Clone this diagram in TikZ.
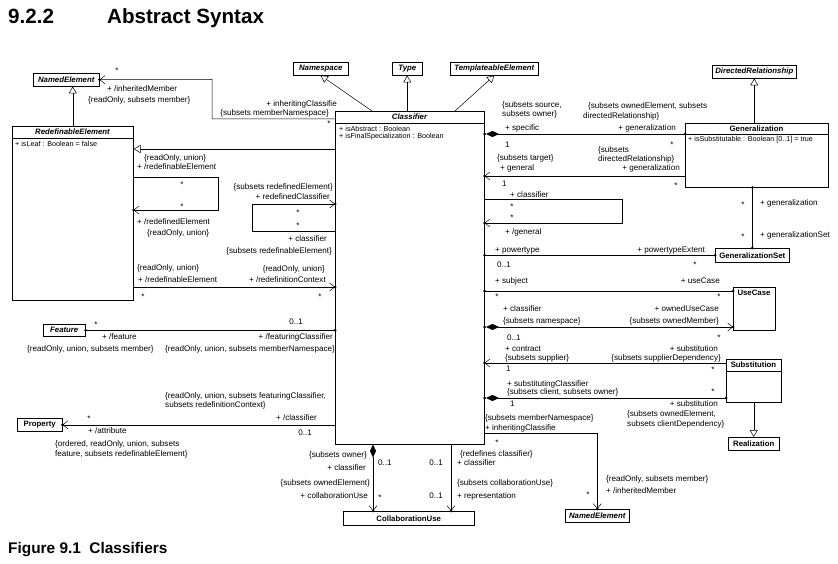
\documentclass[tikz,border=0pt]{standalone}
\usepackage{fontspec}
\setmainfont{Liberation Sans}
\usetikzlibrary{arrows.meta,shadows}
\newcommand\lblfont{\fontsize{8.1}{9}\selectfont}
\newcommand\attrfont{\fontsize{7.2}{8}\selectfont}
\newcommand\ttlfont{\fontsize{7.8}{9}\selectfont\bfseries}
\newcommand\owned[1]{\fill #1 circle (1.5pt);}
\tikzset{
  cls/.style={draw, fill=white, line width=0.5pt, inner sep=0pt, anchor=north west,
    drop shadow={shadow xshift=1.2pt, shadow yshift=-1.2pt, fill=black!45, opacity=1}},
  lbl/.style={font=\lblfont, inner sep=0pt},
  assoc/.style={draw, line width=0.5pt},
  navi/.style={-{Straight Barb[length=5pt,width=8pt]}},
  comp/.style={{Diamond[length=13pt,width=6pt]}-},
  compnavi/.style={{Diamond[length=13pt,width=6pt]}-{Straight Barb[length=5pt,width=8pt]}},
  gen/.style={-{Triangle[open,length=7pt,width=8pt]}},
}
\begin{document}
\begin{tikzpicture}[x=1pt,y=-1pt]
  \useasboundingbox (0,0) rectangle (838,564);
  % heading and caption
  \node[anchor=base west, inner sep=0pt, font=\fontsize{20.6}{24}\selectfont\bfseries] (secnum) at (8,23.5) {9.2.2};
  \node[anchor=base west, inner sep=0pt, font=\fontsize{20.6}{24}\selectfont\bfseries] (sectitle) at (107,23.5) {Abstract Syntax};
  \node[anchor=base west, inner sep=0pt, font=\fontsize{15.4}{18}\selectfont\bfseries] (caption) at (8,553) {Figure 9.1\ \ Classifiers};

  % small classes
  \node[cls, minimum width=66pt, minimum height=13pt] (nelt) at (33,73) {\ttlfont\itshape NamedElement};
  \node[cls, minimum width=55pt, minimum height=13pt] (nspc) at (293,62) {\ttlfont\itshape Namespace};
  \node[cls, minimum width=30pt, minimum height=13pt] (type) at (392,62) {\ttlfont\itshape Type};
  \node[cls, minimum width=88pt, minimum height=13pt] (tmpl) at (450,62) {\ttlfont\itshape TemplateableElement};
  \node[cls, minimum width=84pt, minimum height=13pt] (drel) at (712,65) {\ttlfont\itshape DirectedRelationship};
  \node[cls, minimum width=42pt, minimum height=12pt] (feat) at (43,324) {\ttlfont\itshape Feature};
  \node[cls, minimum width=45pt, minimum height=13pt] (prop) at (17,418) {\ttlfont Property};
  \node[cls, minimum width=74pt, minimum height=14pt] (gset) at (715,248) {\ttlfont GeneralizationSet};
  \node[cls, minimum width=51pt, minimum height=13pt] (real) at (728,437) {\ttlfont Realization};
  \node[cls, minimum width=131pt, minimum height=14pt] (colu) at (343,511) {\ttlfont CollaborationUse};
  \node[cls, minimum width=64pt, minimum height=13pt] (nelt2) at (565,509) {\ttlfont\itshape NamedElement};

  % classes with compartments
  \node[cls, minimum width=121pt, minimum height=174pt] (redef) at (12,126) {};
  \node[font={\ttlfont\itshape}, inner sep=0pt] (redef-t) at (72.5,132) {RedefinableElement};
  \draw[line width=0.5pt] (redef.west |- 0,138) -- (redef.east |- 0,138);
  \node[font=\attrfont, inner sep=0pt, anchor=west] (redef-a) at (15,144) {+ isLeaf : Boolean = false};

  \node[cls, minimum width=149pt, minimum height=333pt] (clsf) at (335,111) {};
  \node[font={\ttlfont\itshape}, inner sep=0pt] (clsf-t) at (409.5,117) {Classifier};
  \draw[line width=0.5pt] (clsf.west |- 0,123) -- (clsf.east |- 0,123);
  \node[font=\attrfont, inner sep=0pt, anchor=west] (clsf-a) at (339,129) {+ isAbstract : Boolean};
  \node[font=\attrfont, inner sep=0pt, anchor=west] (clsf-b) at (339,137) {+ isFinalSpecialization : Boolean};

  \node[cls, minimum width=143pt, minimum height=64pt] (genl) at (685,123) {};
  \node[font=\ttlfont, inner sep=0pt] (genl-t) at (756.5,129) {Generalization};
  \draw[line width=0.5pt] (genl.west |- 0,134) -- (genl.east |- 0,134);
  \node[font=\attrfont, inner sep=0pt, anchor=west] (genl-a) at (688,140) {+ isSubstitutable : Boolean [0..1] = true};

  \node[cls, minimum width=42pt, minimum height=43pt] (ucase) at (733,287) {};
  \node[font=\ttlfont, inner sep=0pt] (ucase-t) at (754,293) {UseCase};

  \node[cls, minimum width=55pt, minimum height=43pt] (subs) at (726,359) {};
  \node[font=\ttlfont, inner sep=0pt] (subs-t) at (753.5,365) {Substitution};
  \draw[line width=0.5pt] (subs.west |- 0,371) -- (subs.east |- 0,371);

  % generalizations
  \draw[assoc, gen] (redef.north) -- (redef.north |- nelt.south);
  \draw[assoc, gen] (clsf.north -| 372,0) -- (nspc.south);
  \draw[assoc, gen] (clsf.north -| type.south) -- (type.south);
  \draw[assoc, gen] (clsf.north -| 455,0) -- (tmpl.south);
  \draw[assoc, gen] (clsf.west |- 0,149) -- (redef.east |- 0,149);
  \draw[assoc, gen] (drel.south |- genl.north) -- (drel.south);
  \draw[assoc, gen] (subs.south) -- (real.north);

  % associations, left side
  \draw[assoc, navi] (clsf.west |- 0,119) -| (212,79.5) -- (nelt.east);
  \owned{(nelt.east)}
  \draw[assoc, navi] (redef.east |- 0,177) -| (218,210) -- (redef.east |- 0,210);
  \owned{(redef.east |- 0,210)}
  \draw[assoc, navi] (clsf.west |- 0,231) -| (252,204) -- (clsf.west |- 0,204);
  \owned{(clsf.west |- 0,204)}
  \draw[assoc, navi] (redef.east |- 0,287) -- (clsf.west |- 0,287);
  \owned{(clsf.west |- 0,287)}
  \draw[assoc] (feat.east) -- (clsf.west |- feat.east);
  \owned{(feat.east)}
  \owned{(clsf.west |- feat.east)}
  \draw[assoc, navi] (clsf.west |- prop.east) -- (prop.east);
  \owned{(prop.east)}

  % associations, right side
  \draw[assoc, comp, shorten <=1.5pt] (clsf.east |- 0,134) -- (genl.west |- 0,134);
  \owned{(clsf.east |- 0,134)}
  \owned{(genl.west |- 0,134)}
  \draw[assoc, navi] (genl.west |- 0,176) -- (clsf.east |- 0,176);
  \owned{(clsf.east |- 0,176)}
  \draw[assoc, navi] (clsf.east |- 0,199) -| (622,223) -- (clsf.east |- 0,223);
  \owned{(clsf.east |- 0,223)}
  \draw[assoc] (genl.south -| gset.north) -- (gset.north);
  \owned{(genl.south -| gset.north)}
  \owned{(gset.north)}
  \draw[assoc] (clsf.east |- gset.west) -- (gset.west);
  \owned{(clsf.east |- gset.west)}
  \owned{(gset.west)}
  \draw[assoc] (clsf.east |- 0,291) -- (ucase.west |- 0,291);
  \owned{(clsf.east |- 0,291)}
  \owned{(ucase.west |- 0,291)}
  \draw[assoc, compnavi, shorten <=1.5pt] (clsf.east |- 0,327) -- (ucase.west |- 0,327);
  \owned{(clsf.east |- 0,327)}
  \owned{(ucase.west |- 0,327)}
  \draw[assoc, navi] (subs.west |- 0,363) -- (clsf.east |- 0,363);
  \owned{(clsf.east |- 0,363)}
  \draw[assoc, comp, shorten <=1.5pt] (clsf.east |- 0,398) -- (subs.west |- 0,398);
  \owned{(clsf.east |- 0,398)}
  \owned{(subs.west |- 0,398)}
  \draw[assoc, navi] (clsf.east |- 0,433) -| (nelt2.north);
  \owned{(nelt2.north)}

  % associations, bottom
  \draw[assoc, compnavi] (clsf.south -| 373,0) -- (colu.north -| 373,0);
  \owned{(colu.north -| 373,0)}
  \draw[assoc, navi] (clsf.south -| 451,0) -- (colu.north -| 451,0);
  \owned{(colu.north -| 451,0)}

  % labels: inheritedMember (top)
  \node[lbl, anchor=base] (inh1) at (117,74) {*};
  \node[lbl, anchor=base west] (inh2) at (107,92) {+ /inheritedMember};
  \node[lbl, anchor=base west] (inh3) at (88,103) {\{readOnly, subsets member\}};
  \node[lbl, anchor=base east] (inh4) at (337,107) {+ inheritingClassifie};
  \node[lbl, anchor=base east] (inh5) at (329,116) {\{subsets memberNamespace\}};
  \node[lbl, anchor=base] (inh6) at (329,127) {*};
  % labels: redefinable element loop
  \node[lbl, anchor=base west] (rde1) at (144,161) {\{readOnly, union\}};
  \node[lbl, anchor=base west] (rde2) at (137,170) {+ /redefinableElement};
  \node[lbl, anchor=base] (rde3) at (182,188) {*};
  \node[lbl, anchor=base] (rde4) at (182,210) {*};
  \node[lbl, anchor=base west] (rde5) at (137,225) {+ /redefinedElement};
  \node[lbl, anchor=base west] (rde6) at (147,236) {\{readOnly, union\}};
  % labels: redefined classifier loop
  \node[lbl, anchor=base east] (rdc1) at (333,190) {\{subsets redefinedElement\}};
  \node[lbl, anchor=base east] (rdc2) at (330,200) {+ redefinedClassifier};
  \node[lbl, anchor=base] (rdc3) at (298,216) {*};
  \node[lbl, anchor=base] (rdc4) at (298,229) {*};
  \node[lbl, anchor=base east] (rdc5) at (327,242) {+ classifier};
  \node[lbl, anchor=base east] (rdc6) at (332,254) {\{subsets redefinableElement\}};
  % labels: redefinition context
  \node[lbl, anchor=base west] (rctx1) at (137,270) {\{readOnly, union\}};
  \node[lbl, anchor=base west] (rctx2) at (138,282) {+ /redefinableElement};
  \node[lbl, anchor=base] (rctx3) at (143,299) {*};
  \node[lbl, anchor=base east] (rctx4) at (325,271) {\{readOnly, union\}};
  \node[lbl, anchor=base east] (rctx5) at (326,282) {+ /redefinitionContext};
  \node[lbl, anchor=base] (rctx6) at (320,299) {*};
  % labels: feature
  \node[lbl, anchor=base] (feat1) at (96,327) {*};
  \node[lbl, anchor=base west] (feat2) at (102,339) {+ /feature};
  \node[lbl, anchor=base east] (feat3) at (303,324) {0..1};
  \node[lbl, anchor=base east] (feat4) at (333,339) {+ /featuringClassifier};
  \node[lbl, anchor=base west] (feat5) at (27,351) {\{readOnly, union, subsets member\}};
  \node[lbl, anchor=base east] (feat6) at (335,351) {\{readOnly, union, subsets memberNamespace\}};
  % labels: attribute
  \node[lbl, anchor=base west] (attr1) at (165,398) {\{readOnly, union, subsets featuringClassifier,};
  \node[lbl, anchor=base west] (attr2) at (165,407) {subsets redefinitionContext\}};
  \node[lbl, anchor=base] (attr3) at (89,421) {*};
  \node[lbl, anchor=base east] (attr4) at (317,420) {+ /classifier};
  \node[lbl, anchor=base west] (attr5) at (88,433) {+ /attribute};
  \node[lbl, anchor=base east] (attr6) at (312,435) {0..1};
  \node[lbl, anchor=base west] (attr7) at (55,446) {\{ordered, readOnly, union, subsets};
  \node[lbl, anchor=base west] (attr8) at (55,456) {feature, subsets redefinableElement\}};
  % labels: specific / generalization
  \node[lbl, anchor=base west] (spec1) at (502,108) {\{subsets source,};
  \node[lbl, anchor=base west] (spec2) at (502,117) {subsets owner\}};
  \node[lbl, anchor=base west] (spec3) at (505,131) {+ specific};
  \node[lbl, anchor=base west] (spec4) at (505,148) {1};
  \node[lbl, anchor=base west] (spec5) at (588,109) {\{subsets ownedElement, subsets};
  \node[lbl, anchor=base west] (spec6) at (583,119) {directedRelationship\}};
  \node[lbl, anchor=base east] (spec7) at (676,131) {+ generalization};
  \node[lbl, anchor=base] (spec8) at (672,148) {*};
  % labels: general / generalization
  \node[lbl, anchor=base west] (genr1) at (497,161) {\{subsets target\}};
  \node[lbl, anchor=base west] (genr2) at (500,171) {+ general};
  \node[lbl, anchor=base west] (genr3) at (502,187) {1};
  \node[lbl, anchor=base west] (genr4) at (598,153) {\{subsets};
  \node[lbl, anchor=base west] (genr5) at (598,162) {directedRelationship\}};
  \node[lbl, anchor=base east] (genr6) at (680,171) {+ generalization};
  \node[lbl, anchor=base] (genr7) at (676,189) {*};
  % labels: /general loop
  \node[lbl, anchor=base west] (gloop1) at (510,198) {+ classifier};
  \node[lbl, anchor=base] (gloop2) at (512,210) {*};
  \node[lbl, anchor=base] (gloop3) at (512,221) {*};
  \node[lbl, anchor=base west] (gloop4) at (505,235) {+ /general};
  % labels: generalization set
  \node[lbl, anchor=base] (gs1) at (743,208) {*};
  \node[lbl, anchor=base west] (gs2) at (760,206) {+ generalization};
  \node[lbl, anchor=base] (gs3) at (743,240) {*};
  \node[lbl, anchor=base west] (gs4) at (760,238) {+ generalizationSet};
  % labels: powertype
  \node[lbl, anchor=base west] (pwr1) at (495,252) {+ powertype};
  \node[lbl, anchor=base west] (pwr2) at (497,267) {0..1};
  \node[lbl, anchor=base east] (pwr3) at (705,252) {+ powertypeExtent};
  \node[lbl, anchor=base] (pwr4) at (695,267) {*};
  % labels: subject / useCase
  \node[lbl, anchor=base west] (subj1) at (495,283) {+ subject};
  \node[lbl, anchor=base] (subj2) at (497,299) {*};
  \node[lbl, anchor=base east] (subj3) at (720,283) {+ useCase};
  \node[lbl, anchor=base] (subj4) at (719,299) {*};
  % labels: owned use case
  \node[lbl, anchor=base west] (ouc1) at (503,311) {+ classifier};
  \node[lbl, anchor=base west] (ouc2) at (503,323) {\{subsets namespace\}};
  \node[lbl, anchor=base west] (ouc3) at (507,340) {0..1};
  \node[lbl, anchor=base east] (ouc4) at (719,311) {+ ownedUseCase};
  \node[lbl, anchor=base east] (ouc5) at (719,323) {\{subsets ownedMember\}};
  \node[lbl, anchor=base] (ouc6) at (719,340) {*};
  % labels: contract
  \node[lbl, anchor=base west] (ctr1) at (505,351) {+ contract};
  \node[lbl, anchor=base west] (ctr2) at (505,360) {\{subsets supplier\}};
  \node[lbl, anchor=base west] (ctr3) at (506,371) {1};
  \node[lbl, anchor=base east] (ctr4) at (718,351) {+ substitution};
  \node[lbl, anchor=base east] (ctr5) at (721,360) {\{subsets supplierDependency\}};
  \node[lbl, anchor=base] (ctr6) at (713,372) {*};
  % labels: substituting classifier
  \node[lbl, anchor=base west] (sbc1) at (507,386) {+ substitutingClassifier};
  \node[lbl, anchor=base west] (sbc2) at (507,394) {\{subsets client, subsets owner\}};
  \node[lbl, anchor=base west] (sbc3) at (510,406) {1};
  \node[lbl, anchor=base] (sbc4) at (713,394) {*};
  \node[lbl, anchor=base east] (sbc5) at (718,406) {+ substitution};
  \node[lbl, anchor=base west] (sbc6) at (627,416) {\{subsets ownedElement,};
  \node[lbl, anchor=base west] (sbc7) at (627,426) {subsets clientDependency\}};
  % labels: inheritedMember (bottom)
  \node[lbl, anchor=base west] (inb1) at (485,420) {\{subsets memberNamespace\}};
  \node[lbl, anchor=base west] (inb2) at (485,430) {+ inheritingClassifie};
  \node[lbl, anchor=base] (inb3) at (497,445) {*};
  \node[lbl, anchor=base] (inb4) at (588,497) {*};
  \node[lbl, anchor=base west] (inb5) at (606,481) {\{readOnly, subsets member\}};
  \node[lbl, anchor=base west] (inb6) at (606,493) {+ /inheritedMember};
  % labels: collaboration use
  \node[lbl, anchor=base east] (cu1) at (367,457) {\{subsets owner\}};
  \node[lbl, anchor=base east] (cu2) at (366,470) {+ classifier};
  \node[lbl, anchor=base west] (cu3) at (378,465) {0..1};
  \node[lbl, anchor=base east] (cu4) at (370,485) {\{subsets ownedElement\}};
  \node[lbl, anchor=base east] (cu5) at (368,498) {+ collaborationUse};
  \node[lbl, anchor=base] (cu6) at (380,500) {*};
  \node[lbl, anchor=base east] (rep1) at (443,465) {0..1};
  \node[lbl, anchor=base west] (rep2) at (460,456) {\{redefines classifier\}};
  \node[lbl, anchor=base west] (rep3) at (457,465) {+ classifier};
  \node[lbl, anchor=base east] (rep4) at (443,498) {0..1};
  \node[lbl, anchor=base west] (rep5) at (457,485) {\{subsets collaborationUse\}};
  \node[lbl, anchor=base west] (rep6) at (457,498) {+ representation};
\end{tikzpicture}
\end{document}
